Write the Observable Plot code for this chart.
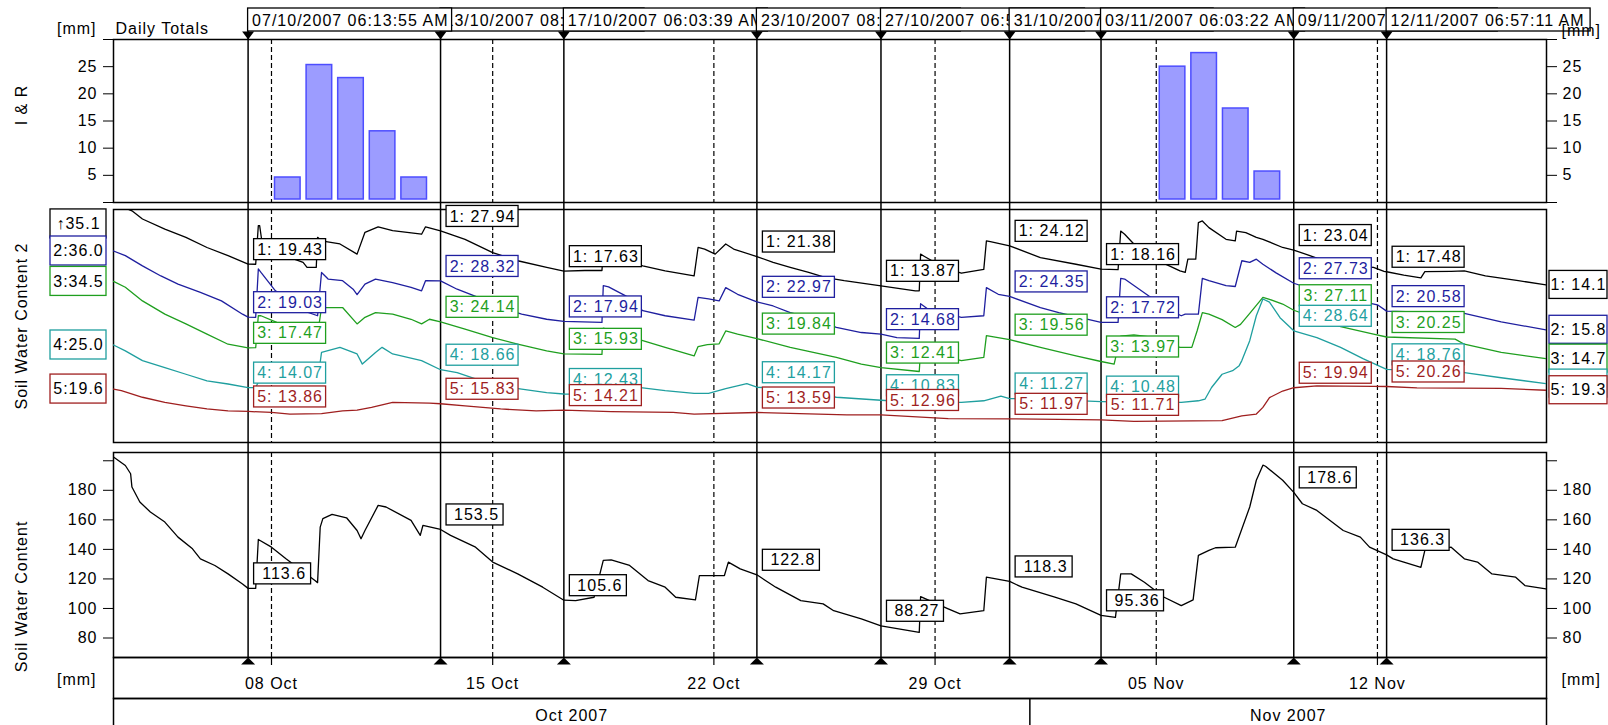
<!DOCTYPE html>
<html>
<head>
<meta charset="utf-8">
<script src="https://cdn.jsdelivr.net/npm/d3@7"></script>
<script src="https://cdn.jsdelivr.net/npm/@observablehq/plot@0.6"></script>
<style>
  html, body { margin: 0; padding: 0; background: #fff; overflow: hidden; }
  #chart { position: relative; width: 1608px; height: 725px; font-family: "Liberation Sans", Arial, sans-serif; }
  #chart svg { position: absolute; left: 0; overflow: visible; }
  #chart svg text { letter-spacing: 1px; }
</style>
</head>
<body>
<div id="chart"></div>
<script>
// ---- Data -------------------------------------------------------------

// Time stamps of the reading markers (header boxes)
const markerLabels = [
  "07/10/2007 06:13:55 AM", "13/10/2007 08:24:10 AM", "17/10/2007 06:03:39 AM",
  "23/10/2007 08:40:27 AM", "27/10/2007 06:55:02 AM", "31/10/2007 08:37:48 AM",
  "03/11/2007 06:03:22 AM", "09/11/2007 08:26:34 AM", "12/11/2007 06:57:11 AM"
];

// Daily irrigation & rain totals [mm]
const rainDays = ["10-08", "10-09", "10-10", "10-11", "10-12", "11-05", "11-06", "11-07", "11-08"];
const rainMm = [4.6, 25.3, 22.9, 13.1, 4.6, 25.0, 27.5, 17.3, 5.7];

// Soil water content per sensor layer [mm]
const layer1 = [["10-03 00",35.1],["10-03 14",33.1],["10-03 22",31.0],["10-04 15",28.4],["10-05 07",26.3],["10-05 23",23.7],["10-06 15",21.6],["10-07 06:14",19.43],["10-07 12",19.4],["10-07 14",29.3],["10-07 15",29.3],["10-07 17",24.6],["10-08 11",21.5],["10-09 00",19.9],["10-09 03",18.6],["10-09 10",18.6],["10-09 11",26.3],["10-09 14",25.4],["10-10 04",24.6],["10-10 17",22.0],["10-10 23",27.6],["10-11 09",29.0],["10-11 20",28.0],["10-12 18",27.1],["10-12 21",29.0],["10-13 08:24",27.94],["10-14 03",25.8],["10-15 00",22.4],["10-15 19",20.3],["10-16 17",18.6],["10-17 06:04",17.63],["10-17 22",17.8],["10-18 11",17.8],["10-18 12",23.0],["10-18 17",22.5],["10-19 05",20.5],["10-19 18",19.0],["10-20 11",17.7],["10-21 09",16.4],["10-21 12",23.7],["10-21 17",23.3],["10-22 01",22.0],["10-22 09",24.6],["10-22 15",23.3],["10-23 08:40",21.38],["10-23 21",19.9],["10-24 10",18.6],["10-25 00",17.3],["10-25 13",16.0],["10-26 03",15.2],["10-27 06:55",13.87],["10-28 09",12.6],["10-28 12",12.6],["10-28 13",22.0],["10-28 16",21.4],["10-29 07",18.5],["10-29 20",17.1],["10-30 13",18.1],["10-30 15",25.4],["10-30 18",25.2],["10-31 08:38",24.12],["11-01 08",21.1],["11-02 11",19.4],["11-03 06:03",18.16],["11-03 19",18.0],["11-03 21",27.9],["11-04 00",27.1],["11-04 07",24.6],["11-04 18",21.5],["11-05 18",17.7],["11-05 22",17.3],["11-06 00",20.7],["11-06 06",20.7],["11-06 08",30.1],["11-06 11",30.5],["11-06 16",28.8],["11-07 05",25.8],["11-07 12",25.4],["11-07 13",27.9],["11-07 20",27.5],["11-08 04",26.3],["11-08 09",25.8],["11-09 00",23.7],["11-09 08:27",23.04],["11-10 02",21.0],["11-11 03",19.0],["11-11 21",18.6],["11-12 05",17.6],["11-12 06:57",17.48],["11-12 20",16.6],["11-13 09",15.9],["11-13 12",17.5],["11-14 08",17.6],["11-14 18",17.7],["11-15 10",16.4],["11-16 11",15.2],["11-17 08",14.1]];
const layer2 = [["10-03 00",36.0],["10-03 09",34.8],["10-03 22",32.2],["10-04 12",29.6],["10-05 01",27.5],["10-05 18",25.4],["10-06 10",23.2],["10-07 02",19.8],["10-07 06:14",19.03],["10-07 12",19.0],["10-07 14",31.4],["10-07 16",30.5],["10-08 03",25.8],["10-08 11",24.1],["10-09 00",20.7],["10-09 11",19.4],["10-09 14",30.5],["10-09 19",28.8],["10-10 06",28.4],["10-10 14",26.2],["10-10 17",24.8],["10-10 23",27.5],["10-11 07",28.8],["10-11 20",27.9],["10-12 10",26.7],["10-12 18",25.8],["10-12 21",28.4],["10-13 08:24",28.32],["10-13 21",26.2],["10-14 13",24.1],["10-15 06",21.5],["10-15 22",19.8],["10-16 17",18.5],["10-17 06:04",17.94],["10-18 11",17.7],["10-18 12",27.1],["10-18 16",26.8],["10-19 05",24.5],["10-19 18",20.7],["10-20 11",19.4],["10-21 09",18.3],["10-21 12",24.1],["10-21 20",23.7],["10-22 04",23.2],["10-22 09",26.6],["10-22 18",24.9],["10-23 08:40",22.97],["10-23 21",21.9],["10-24 10",20.2],["10-25 00",19.0],["10-25 21",16.4],["10-26 16",15.1],["10-27 06:55",14.68],["10-27 19",13.8],["10-28 12",13.6],["10-28 13",22.5],["10-28 19",21.0],["10-29 10",19.8],["10-29 20",19.0],["10-30 13",19.4],["10-30 15",26.6],["10-31 00",24.9],["10-31 08:38",24.35],["11-01 08",21.5],["11-01 22",20.2],["11-03 06:03",17.72],["11-03 19",17.7],["11-03 21",29.0],["11-04 00",28.8],["11-04 20",24.1],["11-05 06",21.5],["11-05 19",19.4],["11-05 22",19.8],["11-06 08",19.8],["11-06 11",29.0],["11-06 16",28.4],["11-07 05",27.1],["11-07 12",26.9],["11-07 17",33.5],["11-07 23",33.1],["11-08 04",33.9],["11-08 09",32.6],["11-08 19",30.4],["11-09 08:27",27.73],["11-10 02",25.8],["11-11 03",23.7],["11-12 00",22.2],["11-12 06:57",20.58],["11-13 12",20.3],["11-14 18",20.0],["11-15 22",17.8],["11-17 08",15.8]];
const layer3 = [["10-03 00",34.5],["10-03 09",33.0],["10-03 22",29.5],["10-04 15",26.1],["10-05 07",23.6],["10-05 23",21.0],["10-06 15",18.4],["10-07 06:14",17.47],["10-07 12",17.5],["10-07 14",25.7],["10-07 16",25.7],["10-08 04",24.0],["10-09 11",21.0],["10-09 14",27.8],["10-10 06",27.8],["10-10 17",23.6],["10-10 23",25.3],["10-11 07",26.5],["10-11 20",26.1],["10-12 10",24.8],["10-12 18",23.6],["10-13 00",24.8],["10-13 08:24",24.14],["10-14 03",22.3],["10-15 00",20.1],["10-15 19",18.4],["10-16 17",16.7],["10-17 06:04",15.93],["10-18 11",15.8],["10-18 12",22.5],["10-18 17",22.0],["10-19 18",19.3],["10-20 11",17.6],["10-21 09",15.4],["10-21 12",17.8],["10-21 19",18.3],["10-22 04",18.5],["10-22 09",21.8],["10-22 18",21.0],["10-23 08:40",19.84],["10-24 10",17.6],["10-25 21",15.0],["10-26 16",13.3],["10-27 06:55",12.41],["10-28 12",11.4],["10-28 13",17.0],["10-28 19",16.3],["10-29 20",14.2],["10-30 13",15.0],["10-30 15",20.6],["10-31 08:38",19.56],["11-01 08",17.6],["11-02 11",15.4],["11-03 06:03",13.97],["11-03 16",13.3],["11-03 21",20.5],["11-04 07",20.8],["11-04 19",20.3],["11-05 18",17.6],["11-06 03",17.6],["11-06 07",21.8],["11-06 11",26.5],["11-06 16",26.1],["11-07 02",24.7],["11-07 12",22.7],["11-07 16",23.5],["11-07 23",26.3],["11-08 09",30.4],["11-08 14",29.9],["11-09 00",28.7],["11-09 08:27",27.11],["11-10 02",25.0],["11-10 20",22.9],["11-11 21",21.0],["11-12 06:57",20.25],["11-14 11",19.7],["11-14 18",18.4],["11-15 22",16.3],["11-17 08",14.7]];
const layer4 = [["10-03 00",25.0],["10-03 09",23.5],["10-03 22",21.0],["10-04 15",19.2],["10-05 07",17.5],["10-05 23",15.8],["10-06 15",15.0],["10-07 06:14",14.07],["10-07 12",14.1],["10-07 14",15.5],["10-09 11",15.6],["10-09 14",23.1],["10-10 04",24.4],["10-10 17",22.7],["10-10 21",20.1],["10-11 07",23.1],["10-11 12",24.4],["10-11 20",22.7],["10-12 18",21.0],["10-13 08:24",18.66],["10-13 21",17.9],["10-14 11",16.3],["10-15 06",14.5],["10-15 22",13.7],["10-16 17",12.8],["10-17 06:04",12.43],["10-18 05",12.4],["10-18 12",14.8],["10-19 18",14.0],["10-20 11",13.3],["10-21 09",12.6],["10-21 20",12.6],["10-22 09",13.8],["10-23 01",15.1],["10-23 08:40",14.17],["10-24 05",13.7],["10-25 21",11.6],["10-27 06:55",10.83],["10-28 12",10.3],["10-29 20",10.3],["10-30 13",10.7],["10-31 02",11.9],["10-31 08:38",11.27],["11-01 08",11.1],["11-03 06:03",10.48],["11-03 19",10.4],["11-05 19",10.3],["11-06 08",10.7],["11-06 13",11.1],["11-06 18",14.1],["11-07 02",17.5],["11-07 10",18.4],["11-07 15",19.7],["11-07 17",21.0],["11-07 23",26.1],["11-08 04",32.5],["11-08 09",36.8],["11-08 14",36.0],["11-08 22",32.0],["11-09 08:27",28.64],["11-10 02",26.9],["11-10 20",24.4],["11-11 13",21.5],["11-12 06:57",18.76],["11-14 18",17.9],["11-15 22",16.6],["11-17 08",15.1]];
const layer5 = [["10-03 00",19.6],["10-03 06",19.2],["10-03 22",17.5],["10-04 15",16.2],["10-05 07",15.3],["10-05 23",14.5],["10-06 15",14.0],["10-07 06:14",13.86],["10-08 00",13.6],["10-08 14",13.2],["10-09 14",13.3],["10-10 06",14.0],["10-10 17",14.2],["10-11 04",14.9],["10-11 20",16.2],["10-13 00",16.0],["10-13 08:24",15.83],["10-14 03",15.3],["10-15 06",14.5],["10-16 09",14.0],["10-17 06:04",14.21],["10-18 18",13.8],["10-20 17",13.6],["10-21 09",13.2],["10-23 08:40",13.59],["10-26 05",13.0],["10-27 06:55",12.96],["10-29 10",12.0],["10-31 08:38",11.97],["11-03 06:03",11.71],["11-04 07",11.3],["11-07 02",11.5],["11-07 17",12.7],["11-08 04",13.2],["11-08 09",14.9],["11-08 14",17.4],["11-09 00",19.1],["11-09 08:27",19.94],["11-10 02",20.4],["11-11 21",20.3],["11-12 06:57",20.26],["11-13 06",19.9],["11-15 22",19.8],["11-17 08",19.3]];

// Values printed at each marker, per layer 1..5
const layerAtMarker = [
  [19.43, 19.03, 17.47, 14.07, 13.86],
  [27.94, 28.32, 24.14, 18.66, 15.83],
  [17.63, 17.94, 15.93, 12.43, 14.21],
  [21.38, 22.97, 19.84, 14.17, 13.59],
  [13.87, 14.68, 12.41, 10.83, 12.96],
  [24.12, 24.35, 19.56, 11.27, 11.97],
  [18.16, 17.72, 13.97, 10.48, 11.71],
  [23.04, 27.73, 27.11, 28.64, 19.94],
  [17.48, 20.58, 20.25, 18.76, 20.26]
];

// Total soil water content [mm]
const totalSwc = [["10-03 00",202.6],["10-03 09",196.8],["10-03 13",191.2],["10-03 14",182.2],["10-03 20",172.1],["10-04 04",165.3],["10-04 15",158.5],["10-05 01",148.3],["10-05 12",140.4],["10-05 18",133.6],["10-06 05",129.1],["10-06 15",123.4],["10-07 02",116.6],["10-07 06:14",113.6],["10-07 12",113.6],["10-07 14",146.7],["10-08 00",141.5],["10-08 11",133.6],["10-09 09",118.9],["10-09 11",117.5],["10-09 13",155.1],["10-09 15",160.8],["10-09 22",163.7],["10-10 09",161.4],["10-10 17",152.8],["10-10 20",147.2],["10-10 23",152.8],["10-11 09",169.8],["10-11 15",168.7],["10-12 10",159.6],["10-12 17",149.5],["10-12 19",156.2],["10-13 08:24",153.5],["10-13 16",149.5],["10-14 11",141.5],["10-15 00",131.4],["10-15 19",123.4],["10-16 14",114.4],["10-17 06:04",105.6],["10-17 15",105.3],["10-18 05",107.6],["10-18 12",132.5],["10-18 18",132.9],["10-19 08",129.1],["10-19 22",118.9],["10-20 11",114.4],["10-20 19",107.6],["10-21 10",105.8],["10-21 13",122.3],["10-22 08",122.3],["10-22 11",131.4],["10-22 20",126.8],["10-23 08:40",122.8],["10-23 23",114.4],["10-24 18",105.3],["10-25 11",103.1],["10-25 19",98.5],["10-26 16",92.9],["10-27 06:55",88.27],["10-28 12",83.8],["10-28 13",108.0],["10-29 10",99.7],["10-29 19",96.3],["10-30 13",98.5],["10-30 15",121.2],["10-31 08:38",118.3],["10-31 18",114.4],["11-01 19",107.6],["11-02 11",103.1],["11-03 06:03",95.36],["11-03 17",94.0],["11-03 21",123.4],["11-04 05",123.4],["11-04 15",117.8],["11-05 06",107.6],["11-05 19",101.9],["11-06 04",105.8],["11-06 08",135.9],["11-06 16",139.3],["11-06 21",141.1],["11-07 12",141.5],["11-07 23",168.7],["11-08 04",186.8],["11-08 09",197.0],["11-08 11",196.3],["11-09 00",186.8],["11-09 08:27",178.6],["11-09 15",170.9],["11-10 02",166.4],["11-10 22",152.8],["11-11 11",148.3],["11-11 18",141.5],["11-12 06:57",136.3],["11-12 12",133.6],["11-13 09",127.9],["11-13 12",139.3],["11-14 08",141.5],["11-14 18",133.6],["11-15 04",131.4],["11-15 15",123.4],["11-16 09",121.2],["11-16 16",115.5],["11-17 08",113.3]];
const totalAtMarker = [113.6, 153.5, 105.6, 122.8, 88.27, 118.3, 95.36, 178.6, 136.3];

// ---- Layout & styling ---------------------------------------------------
const W = 1608, ML = 113, MR = 62;
const FONT = '"Liberation Sans", Arial, sans-serif';
const x0 = new Date(Date.UTC(2007, 9, 3, 0, 0));
const x1 = new Date(Date.UTC(2007, 10, 17, 8, 24));
const layerColors = ["#000000", "#1f1f9f", "#1f9f1f", "#1f9f9f", "#9f1f1f"];
const laneShift = [26.3, 13.1, 6.8, 0, -5.9];   // vertical separation of the layer traces
const laneTop = 59.74;                          // top of the layer panel, in shifted mm

const parseStamp = d3.utcParse("%Y-%m-%d %H:%M");
const T = s => parseStamp("2007-" + (s.length === 8 ? s + ":00" : s));
const parseMarker = d3.utcParse("%d/%m/%Y %I:%M:%S %p");
const markers = markerLabels.map(parseMarker);
const weeks = d3.utcMonday.range(x0, x1);
const months = d3.utcMonth.range(d3.utcMonth.floor(x0), x1);
const layers = [layer1, layer2, layer3, layer4, layer5];

const triDown = {draw(ctx) { ctx.moveTo(-6, -8); ctx.lineTo(6, -8); ctx.lineTo(0, 0); ctx.closePath(); }};
const triUp = {draw(ctx) { ctx.moveTo(-7, 7); ctx.lineTo(7, 7); ctx.lineTo(0, 0); ctx.closePath(); }};

const chart = document.getElementById("chart");
function panel({top, height, marginTop = 0, marginBottom = 0, y, marks}) {
  const svg = Plot.plot({
    width: W, height, marginLeft: ML, marginRight: MR, marginTop, marginBottom,
    x: {type: "utc", domain: [x0, x1], axis: null},
    y,
    style: {fontFamily: FONT, fontSize: "16px", background: "transparent", overflow: "visible", color: "black"},
    marks
  });
  svg.style.position = "absolute";
  svg.style.top = top + "px";
  svg.style.left = "0px";
  chart.appendChild(svg);
}

const weekRules = Plot.ruleX(weeks, {stroke: "black", strokeWidth: 1.2, strokeDasharray: "5,3"});
const markerRules = insetTop => Plot.ruleX(markers, {stroke: "black", strokeWidth: 1.5, insetTop});
const frame = Plot.frame({stroke: "black", strokeWidth: 1.5});
const sideTitle = (text, dy = 0) => Plot.text([text], {frameAnchor: "left", textAnchor: "middle", dx: -92, dy, rotate: -90});

// ---- Header with the marker time stamps --------------------------------
const headerRows = markerLabels.map((label, i) => ({time: markers[i], label}));
const headerOrder = [1, 0, 2, 3, 4, 5, 6, 7, 8];
panel({
  top: 0, height: 39, marginTop: 8, marginBottom: 8,
  marks: [
    Plot.text(["[mm]"], {frameAnchor: "left", dx: -17, dy: 9, textAnchor: "end"}),
    Plot.text(["Daily Totals"], {frameAnchor: "left", dx: 2, dy: 9, textAnchor: "start"}),
    ...headerOrder.flatMap(i => [
      Plot.rect([headerRows[i]], {x1: "time", x2: "time", insetRight: -204, fill: "white", stroke: "black", strokeWidth: 1.3}),
      Plot.text([headerRows[i]], {x: "time", text: "label", frameAnchor: "middle", textAnchor: "start", dx: 4, dy: 1})
    ]),
    Plot.text(["[mm]"], {frameAnchor: "right", dx: 15, dy: 11, textAnchor: "start"})
  ]
});

// ---- Irrigation & rain daily totals -------------------------------------
const rainRows = rainDays.map((d, i) => ({day: T(d + " 00"), mm: rainMm[i]}));
panel({
  top: 39, height: 163,
  y: {domain: [0, 30], axis: "both", ticks: d3.range(0, 31, 5), tickFormat: d => (d > 0 && d < 30 ? String(d) : ""), tickSize: 10, tickPadding: 6, label: null},
  marks: [
    weekRules,
    Plot.rectY(rainRows, {x: "day", interval: "day", y: "mm", fill: "#9c9cff", stroke: "#4d4dff", strokeWidth: 1.5, insetLeft: 3.5, insetRight: 2.5, insetBottom: 3}),
    markerRules(-8),
    Plot.dot(markers, {x: d => d, frameAnchor: "top", symbol: triDown, fill: "black"}),
    frame,
    sideTitle("I & R", -16)
  ]
});

// ---- Soil water content per layer ---------------------------------------
const layerMarks = [];
layers.forEach((rows, k) => {
  layerMarks.push(Plot.line(rows, {x: r => T(r[0]), y: r => r[1] + laneShift[k], stroke: layerColors[k], strokeWidth: 1.3, clip: true}));
});
// start / end values beside the panel
const startRows = layers.map((rows, k) => {
  const v = rows[0][1], yv = v + laneShift[k], cap = laneTop - 3.7;
  return {k, y: Math.min(yv, cap), text: yv > cap ? `↑${v.toFixed(1)}` : `${k + 1}:${v.toFixed(1)}`};
});
const endRows = layers.map((rows, k) => {
  const v = rows[rows.length - 1][1];
  return {k, y: v + laneShift[k], text: `${k + 1}: ${v.toFixed(1)}`};
});
startRows.forEach(r => {
  layerMarks.push(Plot.rect([r], {x1: () => x0, x2: () => x0, y1: "y", y2: "y", insetLeft: -63, insetRight: 7, insetTop: -14.5, insetBottom: -14.5, fill: "white", stroke: layerColors[r.k], strokeWidth: 1.3}));
  layerMarks.push(Plot.text([r], {x: () => x0, y: "y", text: "text", dx: -35, fill: "black"}));
});
endRows.forEach(r => {
  layerMarks.push(Plot.rect([r], {x1: () => x1, x2: () => x1, y1: "y", y2: "y", insetLeft: 3, insetRight: -61, insetTop: -14, insetBottom: -14, fill: "white", stroke: layerColors[r.k], strokeWidth: 1.3}));
  layerMarks.push(Plot.text([r], {x: () => x1, y: "y", text: "text", dx: 32, fill: "black"}));
});
// values at the markers
layers.forEach((rows, k) => {
  const lab = markers.map((t, i) => ({time: t, y: layerAtMarker[i][k] + laneShift[k], text: `${k + 1}: ${layerAtMarker[i][k].toFixed(2)}`}));
  layerMarks.push(Plot.rect(lab, {x1: "time", x2: "time", y1: "y", y2: "y", insetLeft: 6, insetRight: -78, insetTop: -25, insetBottom: 4, fill: "white", stroke: layerColors[k], strokeWidth: 1.3}));
  layerMarks.push(Plot.text(lab, {x: "time", y: "y", text: "text", dx: 42, dy: -14.5, fill: layerColors[k]}));
});
panel({
  top: 209, height: 233,
  y: {domain: [0, laneTop], axis: null},
  marks: [
    weekRules,
    markerRules(-7),
    frame,
    ...layerMarks,
    sideTitle("Soil Water Content 2")
  ]
});

// ---- Total soil water content --------------------------------------------
const totalLabels = markers.map((t, i) => ({time: t, v: totalAtMarker[i]}));
panel({
  top: 452, height: 205,
  y: {domain: [66.8, 205.6], axis: "both", ticks: d3.range(80, 201, 20), tickFormat: d => (d < 200 ? String(d) : ""), tickSize: 10, tickPadding: 6, label: null},
  marks: [
    weekRules,
    markerRules(-10),
    frame,
    Plot.line(totalSwc, {x: r => T(r[0]), y: r => r[1], stroke: "black", strokeWidth: 1.3, clip: true}),
    Plot.rect(totalLabels, {x1: "time", x2: "time", y1: "v", y2: "v", insetLeft: 6, insetRight: -63, insetTop: -25, insetBottom: 4, fill: "white", stroke: "black", strokeWidth: 1.3}),
    Plot.text(totalLabels, {x: "time", y: "v", text: d => String(d.v), dx: 36, dy: -14.5}),
    sideTitle("Soil Water Content", 41.5)
  ]
});

// ---- Time axis: weeks ----------------------------------------------------
panel({
  top: 657, height: 41,
  marks: [
    frame,
    Plot.ruleX(weeks, {stroke: "black", strokeWidth: 1.2, insetBottom: 33}),
    Plot.text(weeks, {x: d => d, text: d3.utcFormat("%d %b"), frameAnchor: "middle", dy: 6}),
    Plot.dot(markers, {x: d => d, frameAnchor: "top", symbol: triUp, fill: "black"}),
    Plot.text(["[mm]"], {frameAnchor: "left", dx: -17, dy: 1.5, textAnchor: "end"}),
    Plot.text(["[mm]"], {frameAnchor: "right", dx: 15, dy: 1.5, textAnchor: "start"})
  ]
});

// ---- Time axis: months ---------------------------------------------------
const monthRows = months.map(m => {
  const a = m < x0 ? x0 : m, e = d3.utcMonth.offset(m, 1), b = e > x1 ? x1 : e;
  return {mid: new Date((+a + +b) / 2), text: d3.utcFormat("%b %Y")(m)};
});
panel({
  top: 698, height: 32,
  marks: [
    frame,
    Plot.ruleX(months.filter(m => m > x0), {stroke: "black", strokeWidth: 1.5}),
    Plot.text(monthRows, {x: "mid", text: "text", frameAnchor: "middle", dy: 1})
  ]
});
</script>
</body>
</html>
